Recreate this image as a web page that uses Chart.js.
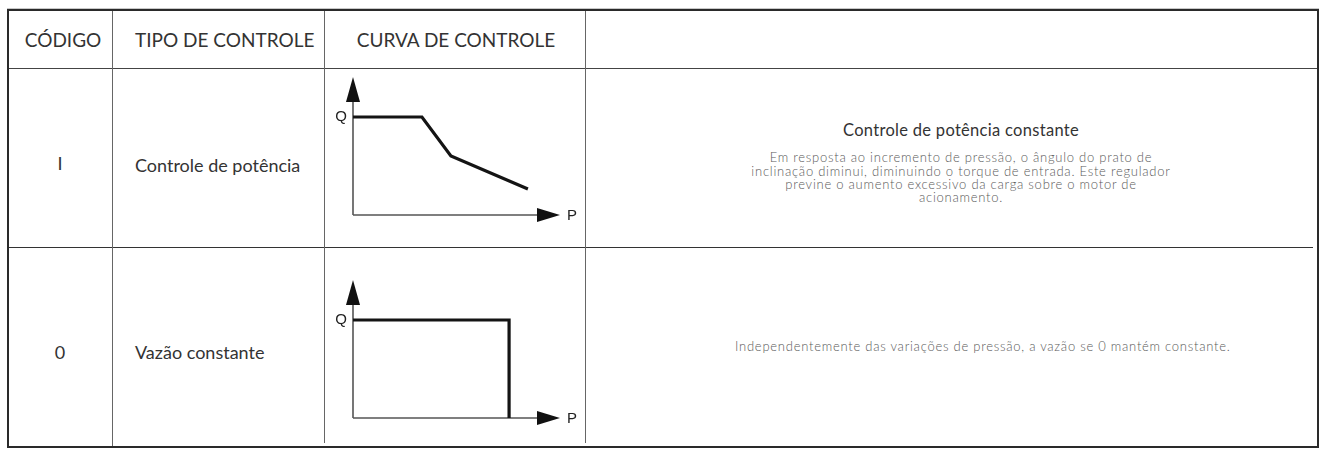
<!DOCTYPE html>
<html>
<head>
<meta charset="utf-8">
<script src="https://cdn.jsdelivr.net/npm/chart.js@4"></script>
<style>
  html, body { margin: 0; padding: 0; background: #fff; }
  body { width: 1324px; height: 450px; position: relative; overflow: hidden; font-family: Lato, "Open Sans", sans-serif; }
  .ln { position: absolute; background: #555; }
  .t { position: absolute; white-space: pre; color: #333; }
  canvas { position: absolute; }
</style>
</head>
<body>
<script>
// ---- data ----
const headers = ['CÓDIGO', 'TIPO DE CONTROLE', 'CURVA DE CONTROLE', ''];
const codes = ['I', '0'];
const controlTypes = ['Controle de potência', 'Vazão constante'];
const descTitles = ['Controle de potência constante', ''];
const descLines1 = [
  'Em resposta ao incremento de pressão, o ângulo do prato de',
  'inclinação diminui, diminuindo o torque de entrada. Este regulador',
  'previne o aumento excessivo da carga sobre o motor de',
  'acionamento.'
];
const descLines2 = ['Independentemente das variações de pressão, a vazão se 0 mantém constante.'];
const axisLabels = ['P', 'Q'];
// curve 1: constant power control (P on x, Q on y)
const powerP = [0, 3.33, 4.73, 8.45];
const powerQ = [7.1, 7.1, 4.28, 1.88];
// curve 2: constant flow
const flowP = [0, 7.54, 7.54];
const flowQ = [7.1, 7.1, 0];

// ---- table layout ----
function line(x, y, w, h, color) {
  const d = document.createElement('div');
  d.className = 'ln';
  d.style.left = x + 'px'; d.style.top = y + 'px';
  d.style.width = w + 'px'; d.style.height = h + 'px';
  if (color) d.style.background = color;
  document.body.appendChild(d);
}
// y = vertical centre of the first line
function text(str, x, y, opts) {
  const size = opts.size || 16;
  const lh = opts.lh || size * 1.2;
  const d = document.createElement('div');
  d.className = 't';
  d.textContent = str;
  d.style.fontSize = size + 'px';
  d.style.fontWeight = opts.weight || 400;
  if (opts.ls) d.style.letterSpacing = opts.ls + 'px';
  if (opts.color) d.style.color = opts.color;
  d.style.top = (y - lh / 2) + 'px';
  d.style.lineHeight = lh + 'px';
  if (opts.align === 'center') {
    d.style.left = (x - 400) + 'px'; d.style.width = '800px'; d.style.textAlign = 'center';
  } else {
    d.style.left = x + 'px';
  }
  document.body.appendChild(d);
}
// outer border
line(7, 8, 1312, 1, '#c8c8c8');
line(7, 9, 1312, 2, '#2a2a2a');
line(7, 446, 1312, 2, '#2a2a2a');
line(7, 9, 2, 439, '#2a2a2a');
line(1317, 9, 2, 439, '#2a2a2a');
// header bottom line
line(9, 68, 1308, 1, '#444');
// row separator
line(9, 247, 1304, 1, '#333');
// columns
line(112, 11, 1, 435, '#666');
line(324, 11, 1, 432, '#666');
line(585, 11, 1, 432, '#666');

// header texts
text(headers[0], 63, 40, {size: 19, align: 'center'});
text(headers[1], 135, 40, {size: 19});
text(headers[2], 456, 40, {size: 19, align: 'center'});
// row texts
text(codes[0], 60, 164, {size: 18, align: 'center'});
text(controlTypes[0], 135, 166, {size: 18});
text(codes[1], 60, 353, {size: 18, align: 'center'});
text(controlTypes[1], 135, 353, {size: 18});
// descriptions
text(descTitles[0], 961, 131, {size: 16.5, ls: 0.3, color: '#333', align: 'center'});
// paragraph as one multi-line block
text(descLines1.join('\n'), 961, 158, {size: 13, ls: 0.75, weight: 300, color: '#5a5a5a', align: 'center', lh: 13.3});
text(descLines2[0], 735, 347, {size: 13, ls: 0.75, weight: 300, color: '#5a5a5a'});

// ---- charts ----
const axisPlugin = {
  id: 'axisArrows',
  beforeDatasetsDraw(chart) {
    const ctx = chart.ctx;
    const xs = chart.scales.x, ys = chart.scales.y;
    const x0 = xs.getPixelForValue(0), y0 = ys.getPixelForValue(0);
    const xTip = xs.getPixelForValue(xs.max), yTip = ys.getPixelForValue(ys.max);
    const qLevel = chart.data.datasets[0].data[0].y;
    ctx.save();
    ctx.strokeStyle = '#555';
    ctx.lineWidth = 1.6;
    ctx.beginPath();
    ctx.moveTo(x0, y0); ctx.lineTo(x0, yTip + 20);
    ctx.moveTo(x0, y0); ctx.lineTo(xTip - 18, y0);
    ctx.stroke();
    ctx.fillStyle = '#111';
    ctx.beginPath();
    ctx.moveTo(x0, yTip); ctx.lineTo(x0 - 7, yTip + 25); ctx.lineTo(x0 + 7, yTip + 25); ctx.closePath();
    ctx.fill();
    ctx.beginPath();
    ctx.moveTo(xTip, y0); ctx.lineTo(xTip - 23, y0 - 7); ctx.lineTo(xTip - 23, y0 + 7); ctx.closePath();
    ctx.fill();
    ctx.fillStyle = '#222';
    ctx.font = '15px "Liberation Sans", Arial, sans-serif';
    ctx.textAlign = 'center';
    ctx.textBaseline = 'middle';
    ctx.fillText(axisLabels[1], x0 - 12, ys.getPixelForValue(qLevel));
    ctx.fillText(axisLabels[0], xTip + 12, y0 + 1);
    ctx.restore();
  }
};

function makeChart(left, top, w, h, pad, xs, ys) {
  const c = document.createElement('canvas');
  c.width = w; c.height = h;
  c.style.left = left + 'px'; c.style.top = top + 'px';
  c.style.width = w + 'px'; c.style.height = h + 'px';
  document.body.appendChild(c);
  new Chart(c, {
    type: 'line',
    data: {
      datasets: [{
        data: xs.map((x, i) => ({x: x, y: ys[i]})),
        borderColor: '#141414',
        borderWidth: 3.2,
        pointRadius: 0,
        fill: false,
        tension: 0,
        clip: false,
        borderJoinStyle: 'miter'
      }]
    },
    options: {
      responsive: false,
      animation: false,
      events: [],
      layout: {padding: pad},
      plugins: {legend: {display: false}, tooltip: {enabled: false}},
      scales: {
        x: {type: 'linear', min: 0, max: 10, display: false},
        y: {type: 'linear', min: 0, max: 10, display: false}
      }
    },
    plugins: [axisPlugin]
  });
}
makeChart(326, 69, 258, 177, {left: 27, top: 8, right: 24, bottom: 31}, powerP, powerQ);
makeChart(326, 249, 258, 194, {left: 27, top: 31, right: 24, bottom: 25}, flowP, flowQ);
</script>
</body>
</html>
